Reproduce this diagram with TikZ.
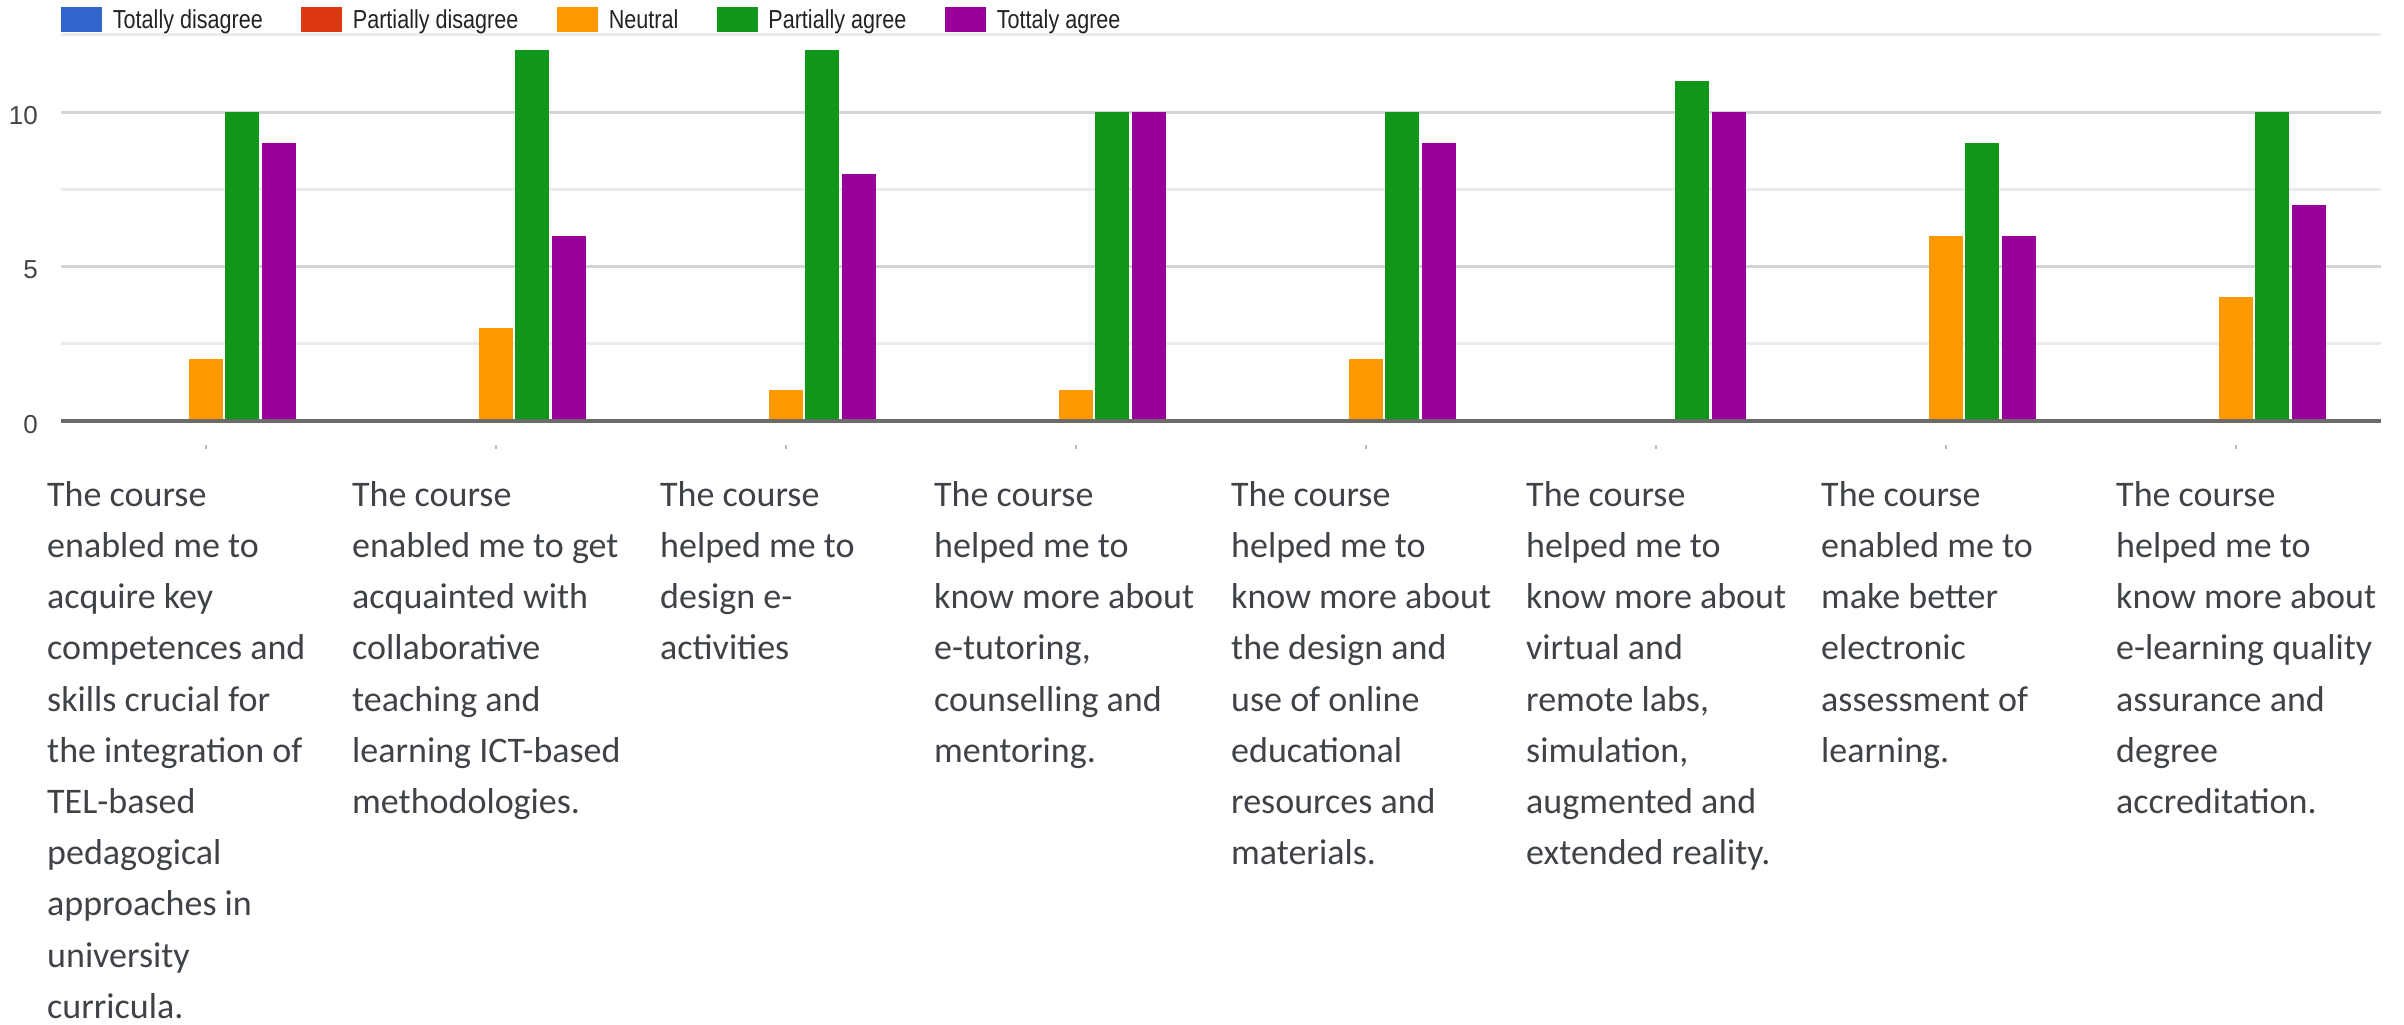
\documentclass[tikz,border=0pt]{standalone}
\usepackage{fontspec}
\usepackage{graphicx}
\setmainfont{Carlito}
\newfontfamily\chartfont{Liberation Sans}
\usetikzlibrary{positioning}

\definecolor{tdblue}{HTML}{3366CC}
\definecolor{pdred}{HTML}{DC3912}
\definecolor{neuorange}{HTML}{FF9900}
\definecolor{pagreen}{HTML}{109618}
\definecolor{taviolet}{HTML}{990099}
\definecolor{gridmajor}{HTML}{D4D4D4}
\definecolor{gridminor}{HTML}{EBEBEB}
\definecolor{axisgray}{HTML}{6B6B6B}
\definecolor{labgray}{HTML}{444444}
\definecolor{legtext}{HTML}{222222}
\definecolor{cattext}{HTML}{3F4347}

\tikzset{
  swatch/.style={rectangle,draw=none,minimum width=41pt,minimum height=25pt,inner sep=0pt},
  legendtext/.style={inner sep=0pt,text=legtext,font=\chartfont\fontsize{26}{30}\selectfont,text height=18.6pt,text depth=0pt},
  ylabel/.style={anchor=east,inner sep=0pt,text=labgray,font=\chartfont\fontsize{26}{30}\selectfont,text height=18.6pt,text depth=0pt},
  catlabel/.style={anchor=north west,inner sep=0pt,align=left,text=cattext,font=\fontsize{36}{51.2}\selectfont},
  majorgrid/.style={draw=gridmajor,line width=3pt},
  minorgrid/.style={draw=gridminor,line width=3pt}
}

\begin{document}
\begin{tikzpicture}[x=1pt,y=-1pt]
\useasboundingbox (0,0) rectangle (2404,1025);

% grid
\foreach \v in {2.5,7.5,12.5}
  \draw[minorgrid] (61,{421-\v*30.9}) -- (2381,{421-\v*30.9});
\foreach \v in {5,10}
  \draw[majorgrid] (61,{421-\v*30.9}) -- (2381,{421-\v*30.9});

% bars: group / neutral / partially agree / tottaly agree
\foreach \g/\n/\p/\t in {1/2/10/9,2/3/12/6,3/1/12/8,4/1/10/10,5/2/10/9,6/0/11/10,7/6/9/6,8/4/10/7}{
  \pgfmathsetmacro\c{206+290*(\g-1)}
  \fill[neuorange] ({\c-17},421) rectangle ({\c+17},{421-\n*30.9});
  \fill[pagreen] ({\c+19.3},421) rectangle ({\c+53.3},{421-\p*30.9});
  \fill[taviolet] ({\c+55.6},421) rectangle ({\c+89.6},{421-\t*30.9});
  \draw[gridmajor!70!gray,line width=1.5pt] (\c,445) -- (\c,449);
}
\draw[axisgray,line width=4pt] (61,421) -- (2381,421);

% y labels
\node[ylabel] (ylab0) at (38,424) {0};
\node[ylabel] (ylab5) at (38,269.5) {5};
\node[ylabel] (ylab10) at (38,115) {10};

% legend
\node[swatch,fill=tdblue] (swTD) at (81.5,19.5) {};
\node[legendtext,right=10.5pt of swTD] (lgTD) {\scalebox{0.83}[1]{Totally disagree}};
\node[swatch,fill=pdred] (swPD) at (321.5,19.5) {};
\node[legendtext,right=10.5pt of swPD] (lgPD) {\scalebox{0.83}[1]{Partially disagree}};
\node[swatch,fill=neuorange] (swN) at (577.5,19.5) {};
\node[legendtext,right=10.5pt of swN] (lgN) {\scalebox{0.83}[1]{Neutral}};
\node[swatch,fill=pagreen] (swPA) at (737,19.5) {};
\node[legendtext,right=10.5pt of swPA] (lgPA) {\scalebox{0.83}[1]{Partially agree}};
\node[swatch,fill=taviolet] (swTA) at (965.5,19.5) {};
\node[legendtext,right=10.5pt of swTA] (lgTA) {\scalebox{0.83}[1]{Tottaly agree}};

% category labels
\node[catlabel] (cat1) at (47,481) {The course\\enabled me to\\acquire key\\competences and\\skills crucial for\\the integration of\\TEL-based\\pedagogical\\approaches in\\university\\curricula.};
\node[catlabel] (cat2) at (352,481) {The course\\enabled me to get\\acquainted with\\collaborative\\teaching and\\learning ICT-based\\methodologies.};
\node[catlabel] (cat3) at (660,481) {The course\\helped me to\\design e-\\activities};
\node[catlabel] (cat4) at (934,481) {The course\\helped me to\\know more about\\e-tutoring,\\counselling and\\mentoring.};
\node[catlabel] (cat5) at (1231,481) {The course\\helped me to\\know more about\\the design and\\use of online\\educational\\resources and\\materials.};
\node[catlabel] (cat6) at (1526,481) {The course\\helped me to\\know more about\\virtual and\\remote labs,\\simulation,\\augmented and\\extended reality.};
\node[catlabel] (cat7) at (1821,481) {The course\\enabled me to\\make better\\electronic\\assessment of\\learning.};
\node[catlabel] (cat8) at (2116,481) {The course\\helped me to\\know more about\\e-learning quality\\assurance and\\degree\\accreditation.};
\end{tikzpicture}
\end{document}
